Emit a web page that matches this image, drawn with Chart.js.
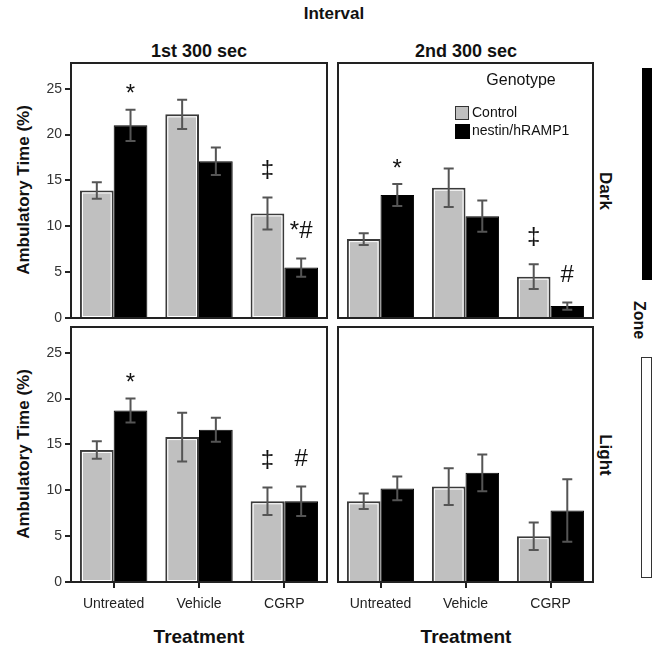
<!DOCTYPE html>
<html>
<head>
<meta charset="utf-8">
<script src="https://cdn.jsdelivr.net/npm/chart.js@4"></script>
<style>
  body { margin: 0; background: #fff; }
  #wrap { position: relative; width: 664px; height: 655px; font-family: "Liberation Sans", Arial, sans-serif; color: #111; }
  canvas { position: absolute; }
  .t { position: absolute; white-space: nowrap; font-weight: bold; transform: translate(-50%, -50%); }
  .rot { transform: translate(-50%, -50%) rotate(90deg); }
  .rotl { transform: translate(-50%, -50%) rotate(-90deg); }
</style>
</head>
<body>
<div id="wrap">
  <div class="t" style="left:334px;top:14px;font-size:17px">Interval</div>
  <div class="t" style="left:199px;top:51px;font-size:18px">1st 300 sec</div>
  <div class="t" style="left:466px;top:51px;font-size:18px">2nd 300 sec</div>

  <div class="t rotl" style="left:24px;top:190px;font-size:17px">Ambulatory Time (%)</div>
  <div class="t rotl" style="left:24px;top:454px;font-size:17px">Ambulatory Time (%)</div>

  <div class="t" style="left:199px;top:637px;font-size:19px">Treatment</div>
  <div class="t" style="left:466px;top:637px;font-size:19px">Treatment</div>

  <div class="t rot" style="left:605px;top:191px;font-size:17px">Dark</div>
  <div class="t rot" style="left:605px;top:455px;font-size:17px">Light</div>
  <div class="t rot" style="left:639px;top:320px;font-size:16px">Zone</div>
  <div style="position:absolute;left:642px;top:68px;width:10px;height:212px;background:#000"></div>
  <div style="position:absolute;left:641px;top:357px;width:9px;height:219px;border:1.5px solid #333;background:#fff"></div>

  <div style="position:absolute;left:0;top:320px;width:330px;height:335px"><canvas id="bl"></canvas></div>
  <div style="position:absolute;left:330px;top:320px;width:270px;height:335px"><canvas id="br"></canvas></div>
  <div style="position:absolute;left:0;top:60px;width:330px;height:272px"><canvas id="tl"></canvas></div>
  <div style="position:absolute;left:330px;top:60px;width:270px;height:272px"><canvas id="tr"></canvas></div>

  <div class="t" style="left:521px;top:80px;font-size:16px;font-weight:normal">Genotype</div>
  <div style="position:absolute;left:455px;top:106px;width:12px;height:12px;background:#c0c0c0;border:1.5px solid #333"></div>
  <div style="position:absolute;left:472px;top:104px;font-size:14px">Control</div>
  <div style="position:absolute;left:455px;top:124px;width:15px;height:15px;background:#000"></div>
  <div style="position:absolute;left:472px;top:122px;font-size:14px">nestin/hRAMP1</div>
</div>
<script>
const categories = ['Untreated', 'Vehicle', 'CGRP'];
const yTicks = [0, 5, 10, 15, 20, 25];

// Dark zone, 1st 300 sec
const dark1Control = [13.9, 22.2, 11.4];
const dark1ControlErr = [0.9, 1.6, 1.75];
const dark1Nestin = [21.0, 17.1, 5.5];
const dark1NestinErr = [1.7, 1.5, 1.0];
const dark1ControlMarks = ['', '', '‡'];
const dark1NestinMarks = ['*', '', '*#'];

// Dark zone, 2nd 300 sec
const dark2Control = [8.6, 14.2, 4.5];
const dark2ControlErr = [0.65, 2.1, 1.35];
const dark2Nestin = [13.4, 11.1, 1.3];
const dark2NestinErr = [1.2, 1.7, 0.4];
const dark2ControlMarks = ['', '', '‡'];
const dark2NestinMarks = ['*', '', '#'];

// Light zone, 1st 300 sec
const light1Control = [14.4, 15.8, 8.8];
const light1ControlErr = [0.95, 2.65, 1.5];
const light1Nestin = [18.7, 16.6, 8.8];
const light1NestinErr = [1.3, 1.3, 1.6];
const light1ControlMarks = ['', '', '‡'];
const light1NestinMarks = ['*', '', '#'];

// Light zone, 2nd 300 sec
const light2Control = [8.8, 10.4, 5.0];
const light2ControlErr = [0.85, 2.0, 1.5];
const light2Nestin = [10.2, 11.9, 7.8];
const light2NestinErr = [1.3, 2.0, 3.4];
const light2ControlMarks = ['', '', ''];
const light2NestinMarks = ['', '', ''];

const FONT = '"Liberation Sans", Arial, sans-serif';

// error bars, significance marks and the panel frame
const panelPlugin = {
  id: 'panel',
  afterDatasetsDraw(chart) {
    const ctx = chart.ctx;
    const y = chart.scales.y;
    ctx.save();
    chart.data.datasets.forEach((ds, di) => {
      chart.getDatasetMeta(di).data.forEach((bar, i) => {
        // thin white inner line on the grey bars
        if (di === 0) {
          ctx.strokeStyle = '#fff';
          ctx.lineWidth = 1;
          const w = bar.width - 5;
          ctx.strokeRect(bar.x - w / 2, bar.y + 2.5, w, bar.base - bar.y - 3);
        }
        const v = ds.data[i], e = ds.err[i];
        const top = y.getPixelForValue(v + e);
        const bot = y.getPixelForValue(v - e);
        ctx.strokeStyle = '#555';
        ctx.lineWidth = 2;
        ctx.beginPath();
        ctx.moveTo(bar.x, top); ctx.lineTo(bar.x, bot);
        ctx.moveTo(bar.x - 5, top); ctx.lineTo(bar.x + 5, top);
        ctx.moveTo(bar.x - 5, bot); ctx.lineTo(bar.x + 5, bot);
        ctx.stroke();

        const mark = ds.marks[i];
        if (mark) {
          ctx.fillStyle = '#111';
          ctx.font = '24px ' + FONT;
          ctx.textAlign = 'center';
          ctx.textBaseline = 'middle';
          const off = mark === '*' ? 15 : 27;
          ctx.fillText(mark, bar.x, top - off);
        }
      });
    });
    ctx.restore();
  },
  afterDraw(chart) {
    const a = chart.chartArea, ctx = chart.ctx;
    ctx.save();
    ctx.strokeStyle = '#222';
    ctx.lineWidth = 2;
    ctx.strokeRect(a.left, a.top, a.right - a.left, a.bottom - a.top);
    ctx.restore();
  }
};

function makePanel(id, control, controlErr, controlMarks, nestin, nestinErr, nestinMarks, opt) {
  new Chart(document.getElementById(id), {
    type: 'bar',
    data: {
      labels: categories,
      datasets: [
        { label: 'Control', data: control, err: controlErr, marks: controlMarks,
          backgroundColor: '#c0c0c0', borderColor: '#3a3a3a', borderWidth: 2 },
        { label: 'nestin/hRAMP1', data: nestin, err: nestinErr, marks: nestinMarks,
          backgroundColor: '#000', borderColor: '#000', borderWidth: 1 }
      ]
    },
    options: {
      responsive: true,
      maintainAspectRatio: false,
      animation: false,
      categoryPercentage: 0.79,
      barPercentage: 1.0,
      layout: { padding: opt.padding },
      plugins: { legend: { display: false }, tooltip: { enabled: false } },
      scales: {
        x: {
          display: opt.showX,
          grid: { offset: false, drawOnChartArea: false, drawTicks: true, tickLength: 6, color: '#222', lineWidth: 2 },
          border: { display: false },
          ticks: { color: '#222', padding: 8, autoSkip: false, maxRotation: 0, minRotation: 0, font: { family: FONT, size: 14 } },
          afterFit(s) { s.height = opt.showX ? 73 : 0; s.paddingLeft = 0; s.paddingRight = 0; }
        },
        y: {
          display: opt.showY,
          min: 0,
          max: 27.8,
          afterBuildTicks(s) { s.ticks = yTicks.map(v => ({ value: v })); },
          grid: { drawOnChartArea: false, drawTicks: true, tickLength: 6, color: '#222', lineWidth: 2 },
          border: { display: false },
          ticks: { color: '#333', padding: 3, font: { family: FONT, size: 14 } },
          afterFit(s) { s.width = opt.showY ? 71 : 0; s.paddingTop = 0; s.paddingBottom = 0; }
        }
      }
    },
    plugins: [panelPlugin]
  });
}

makePanel('tl', dark1Control, dark1ControlErr, dark1ControlMarks, dark1Nestin, dark1NestinErr, dark1NestinMarks,
  { showX: false, showY: true, padding: { top: 3, right: 3, bottom: 14, left: 0 } });
makePanel('tr', dark2Control, dark2ControlErr, dark2ControlMarks, dark2Nestin, dark2NestinErr, dark2NestinMarks,
  { showX: false, showY: false, padding: { top: 3, right: 7, bottom: 14, left: 8 } });
makePanel('bl', light1Control, light1ControlErr, light1ControlMarks, light1Nestin, light1NestinErr, light1NestinMarks,
  { showX: true, showY: true, padding: { top: 7, right: 3, bottom: 0, left: 0 } });
makePanel('br', light2Control, light2ControlErr, light2ControlMarks, light2Nestin, light2NestinErr, light2NestinMarks,
  { showX: true, showY: false, padding: { top: 7, right: 7, bottom: 0, left: 8 } });
</script>
</body>
</html>
